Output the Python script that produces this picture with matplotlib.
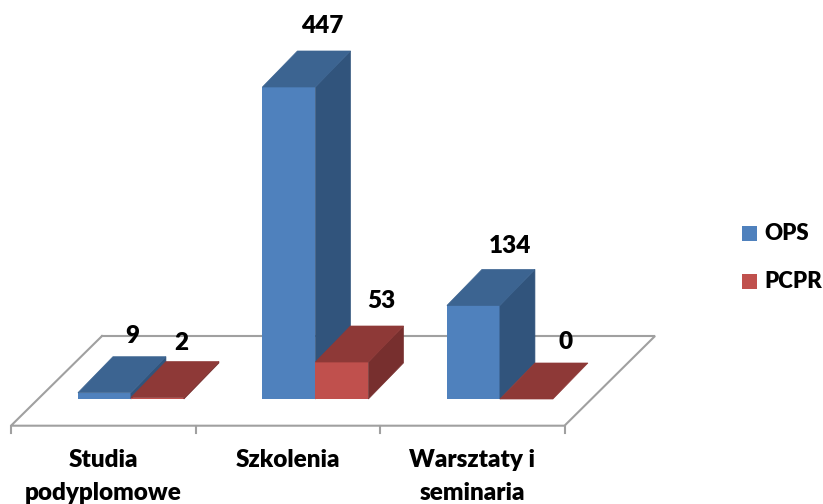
import numpy as np
import matplotlib
matplotlib.use('Agg')
import matplotlib.pyplot as plt
from matplotlib.patches import Polygon, Rectangle

plt.rcParams['font.family'] = ['Lato', 'DejaVu Sans']

categories = ['Studia\npodyplomowe', 'Szkolenia', 'Warsztaty i\nseminaria']
ops = [9, 447, 134]
pcpr = [2, 53, 0]
series_names = ['OPS', 'PCPR']

W, H = 823, 504
# pixel scale of the chart
x0_px, x_step = 11.0, 184.5
y0_px, y_step = 399.0, 0.698

# 3d look, in pixels
depth_x = 35.0 / x_step
depth_y = 36.0 / y_step
bar_w = 53.0 / x_step
group_pos = 0.65
floor_front = -26.7 / y_step
floor_back = 63.0 / y_step
floor_dx = 91.0 / x_step
grey = '#a0a0a0'
fsize = 17.5
legend_fsize = 16

colors = {
    'OPS': ('#4f81bd', '#3c6491', '#31547c'),
    'PCPR': ('#c0504d', '#8e3937', '#772f2e'),
}
# label nudges from bar centre (px right, px up)
nudge_ops = [(27.7, 56.5), (33.5, 61), (36.5, 59)]
nudge_pcpr = [(24, 55), (39, 61.5), (39, 57)]


def draw_bar(ax, left, value, cols):
    right = left + bar_w
    front, top, side = cols
    edge = dict(linewidth=0.5, joinstyle='miter')
    if value > 0:
        ax.add_patch(Rectangle((left, 0), bar_w, value, facecolor=front, edgecolor='none'))
        ax.add_patch(Polygon([(right, 0), (right + depth_x, depth_y),
                              (right + depth_x, value + depth_y), (right, value)],
                             facecolor=side, edgecolor=side, **edge))
    ax.add_patch(Polygon([(left, value), (right, value),
                          (right + depth_x, value + depth_y), (left + depth_x, value + depth_y)],
                         facecolor=top, edgecolor=top, **edge))


fig = plt.figure(figsize=(W / 100, H / 100), dpi=100)
ax = fig.add_axes([0, 0, 1, 1])
ax.set_xlim(-x0_px / x_step, (W - x0_px) / x_step)
ax.set_ylim((y0_px - H) / y_step, y0_px / y_step)
ax.axis('off')

# floor
n = len(categories)
ax.plot([floor_dx, 0, n, n + floor_dx * 0.995, floor_dx],
        [floor_back, floor_front, floor_front, floor_back, floor_back],
        color=grey, lw=1.5, solid_joinstyle='miter', zorder=1)
for i in range(n + 1):
    ax.plot([i, i], [floor_front, floor_front - 7.5 / y_step], color=grey, lw=1.5, zorder=1)

for i, cat in enumerate(categories):
    left = i + group_pos - bar_w
    draw_bar(ax, left, ops[i], colors['OPS'])
    draw_bar(ax, left + bar_w, pcpr[i], colors['PCPR'])

    nx, ny = nudge_ops[i]
    ax.text(left + bar_w / 2 + nx / x_step, ops[i] + ny / y_step, str(ops[i]),
            ha='center', va='center', fontsize=fsize, fontweight='heavy', color='black', zorder=5)
    nx, ny = nudge_pcpr[i]
    ax.text(left + bar_w * 1.5 + nx / x_step, pcpr[i] + ny / y_step, str(pcpr[i]),
            ha='center', va='center', fontsize=fsize, fontweight='heavy', color='black', zorder=5)

    ax.text(i + 0.5, floor_front - 23.5 / y_step, cat, ha='center', va='top', fontsize=fsize,
            fontweight='heavy', color='black', linespacing=1.6)

# legend
for j, name in enumerate(series_names):
    y_top = 226 + 48 * j
    fig.add_artist(Rectangle((742 / W, 1 - (y_top + 15) / H), 15 / W, 15 / H,
                             transform=fig.transFigure, facecolor=colors[name][0], edgecolor='none'))
    fig.text(764 / W, 1 - (y_top + 7.5) / H, name, ha='left', va='center', fontsize=legend_fsize,
             fontweight='heavy', color='black')

fig.savefig('out.png', dpi=100, facecolor='white')
